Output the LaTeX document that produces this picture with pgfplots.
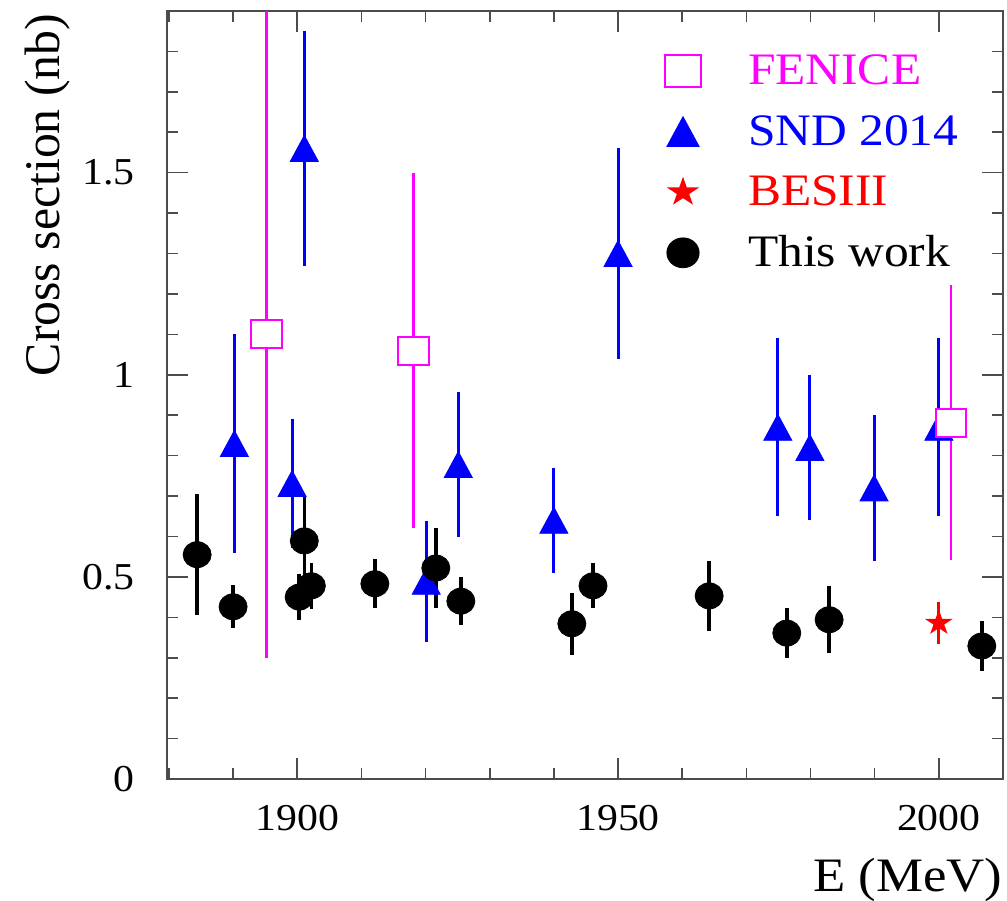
\documentclass[border=0pt]{standalone}
\usepackage{pgfplots}
\pgfplotsset{compat=1.18}
\usepackage{fontspec}
\setmainfont{Liberation Serif}[FakeStretch=1.1]
\newfontfamily\ylfont{Liberation Serif}
\definecolor{fenice}{rgb}{1,0,1}
\definecolor{snd}{rgb}{0,0,1}
\definecolor{bes}{rgb}{1,0,0}
\pgfdeclareplotmark{tri}{%
  \pgfpathmoveto{\pgfqpoint{0pt}{\pgfplotmarksize}}%
  \pgfpathlineto{\pgfqpoint{-1.08\pgfplotmarksize}{-\pgfplotmarksize}}%
  \pgfpathlineto{\pgfqpoint{1.08\pgfplotmarksize}{-\pgfplotmarksize}}%
  \pgfpathclose\pgfusepathqfillstroke}
\pgfdeclareplotmark{fstar}{%
  \pgfpathmoveto{\pgfqpoint{0pt}{\pgfplotmarksize}}%
  \pgfpathlineto{\pgfqpoint{-0.2245\pgfplotmarksize}{0.309\pgfplotmarksize}}%
  \pgfpathlineto{\pgfqpoint{-0.951\pgfplotmarksize}{0.309\pgfplotmarksize}}%
  \pgfpathlineto{\pgfqpoint{-0.3633\pgfplotmarksize}{-0.118\pgfplotmarksize}}%
  \pgfpathlineto{\pgfqpoint{-0.588\pgfplotmarksize}{-0.809\pgfplotmarksize}}%
  \pgfpathlineto{\pgfqpoint{0pt}{-0.382\pgfplotmarksize}}%
  \pgfpathlineto{\pgfqpoint{0.588\pgfplotmarksize}{-0.809\pgfplotmarksize}}%
  \pgfpathlineto{\pgfqpoint{0.3633\pgfplotmarksize}{-0.118\pgfplotmarksize}}%
  \pgfpathlineto{\pgfqpoint{0.951\pgfplotmarksize}{0.309\pgfplotmarksize}}%
  \pgfpathlineto{\pgfqpoint{0.2245\pgfplotmarksize}{0.309\pgfplotmarksize}}%
  \pgfpathclose\pgfusepathqfill}

\pgfplotstableread{
x y e
1895.2 1.10 0.80
1918.1 1.06 0.44
2001.9 0.881 0.34
}\fenicedata
\pgfplotstableread{
x y e
1890.2 0.830 0.27
1899.2 0.731 0.16
1901.1 1.560 0.29
1920.1 0.489 0.15
1925.1 0.778 0.18
1940.0 0.640 0.13
1950.0 1.300 0.26
1974.9 0.870 0.22
1979.9 0.820 0.18
1989.9 0.720 0.18
2000.0 0.870 0.22
}\snddata
\pgfplotstableread{
x y e
2000.0 0.386 0.053
}\besdata
\pgfplotstableread{
x y e
1884.4 0.555 0.150
1890.0 0.426 0.053
1900.3 0.450 0.056
1901.1 0.589 0.110
1902.2 0.478 0.057
1912.1 0.483 0.061
1921.6 0.522 0.100
1925.5 0.440 0.060
1942.8 0.384 0.077
1946.1 0.478 0.056
1964.2 0.453 0.087
1976.3 0.361 0.062
1982.9 0.394 0.083
2006.7 0.329 0.063
}\workdata

\begin{document}
\begin{tikzpicture}
\begin{axis}[
  name=ax, at={(0,0)}, anchor=south west,
  scale only axis, width=418pt, height=384pt,
  xmin=1879.7, xmax=2010, ymin=0, ymax=1.9,
  xtick={1900,1950,2000}, ytick={0,0.5,1,1.5},
  minor xtick={1880,1890,...,2010},
  minor ytick={0.1,0.2,0.3,0.4,0.6,0.7,0.8,0.9,1.1,1.2,1.3,1.4,1.6,1.7,1.8},
  tick pos=both, tick align=inside,
  major tick length=10.5pt, minor tick length=5.5pt,
  axis line style={black!70, line width=0.8pt},
  tick style={black!70, line width=0.8pt},
  /pgf/number format/assume math mode=true,
  /pgf/number format/set thousands separator={},
  ticklabel style={font=\fontsize{19}{19}\selectfont},
  xticklabel style={anchor=north, inner sep=0pt, yshift=-13pt},
  yticklabel style={anchor=east, inner sep=0pt, xshift=-16pt},
  xlabel={E (MeV)},
  ylabel={Cross section (nb)},
  xlabel style={at={(axis description cs:1,-0.147)}, anchor=base east, inner sep=0pt, font=\fontsize{24}{24}\selectfont},
  ylabel style={at={(axis description cs:-0.128,0.997)}, anchor=base east, inner sep=0pt, font=\ylfont\fontsize{24.9}{25}\selectfont},
  legend style={at={(axis description cs:0.5957,0.9453)}, anchor=north west, draw=none, fill=none, inner sep=0pt, outer sep=0pt, row sep=12.3pt, column sep=23.5pt, font=\fontsize{22.5}{23}\selectfont, nodes={inner sep=0pt}},
  legend cell align=left,
  legend image code/.code={\path[draw=none, fill=none] (-9pt,-9pt) rectangle (9pt,9pt); \draw[#1, every mark/.append style={scale=1.15}] plot coordinates {(0pt,0pt)};},
]
\addlegendimage{color=fenice, mark=square*, mark size=7pt, mark options={fill=white, line width=1pt, xscale=1.1}}
\addlegendentry{\textcolor{fenice}{FENICE}}
\addlegendimage{color=snd, mark=tri, mark size=6.5pt}
\addlegendentry{\textcolor{snd}{SND 2014}}
\addlegendimage{color=bes, mark=fstar, mark size=6.7pt, mark options={xscale=1.1}}
\addlegendentry{\textcolor{bes}{BESIII}}
\addlegendimage{color=black, mark=*, mark size=6.5pt, mark options={xscale=1.08}}
\addlegendentry{This work}

\addplot[forget plot, only marks, color=snd, mark=tri, mark size=6.5pt,
  error bars/.cd, y dir=both, y explicit, error mark=none,
  error bar style={line width=1.5pt, snd}]
  table[x=x, y=y, y error=e] {\snddata};
\addplot[forget plot, only marks, color=bes, mark=fstar, mark size=6.7pt, mark options={xscale=1.1},
  error bars/.cd, y dir=both, y explicit, error mark=none,
  error bar style={line width=1.5pt, bes}]
  table[x=x, y=y, y error=e] {\besdata};
\addplot[forget plot, only marks, color=black, mark=*, mark size=6.5pt, mark options={xscale=1.08},
  error bars/.cd, y dir=both, y explicit, error mark=none,
  error bar style={line width=1.8pt, black}]
  table[x=x, y=y, y error=e] {\workdata};
\addplot[forget plot, only marks, color=fenice, mark=square*, mark size=7pt, mark options={fill=white, line width=1pt, xscale=1.1},
  error bars/.cd, y dir=both, y explicit, error mark=none,
  error bar style={line width=1.4pt, fenice}]
  table[x=x, y=y, y error=e] {\fenicedata};
\end{axis}
\pgfresetboundingbox
\path (-83.5pt,-60.5pt) rectangle (420pt,389.5pt);
\end{tikzpicture}
\end{document}
